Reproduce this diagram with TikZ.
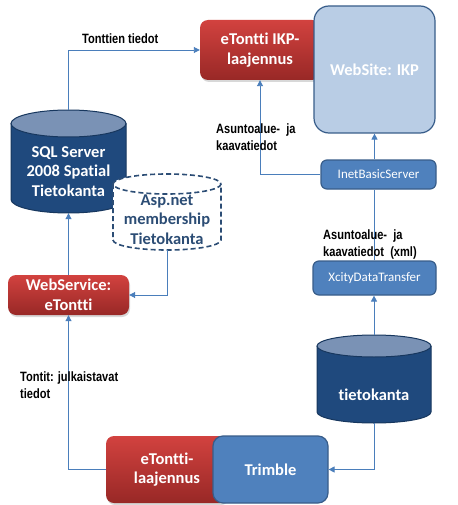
\documentclass[tikz,border=0pt]{standalone}
\usepackage{fontspec}
\setmainfont{Carlito}[Ligatures={NoCommon,NoContextual}]
\newfontfamily\labfont[FakeStretch=0.82]{Liberation Sans}
\usetikzlibrary{arrows.meta,shadows}
\definecolor{redtop}{RGB}{210,66,63}
\definecolor{redbot}{RGB}{152,40,38}
\definecolor{boxblue}{RGB}{79,129,189}
\definecolor{blueedge}{RGB}{56,93,138}
\definecolor{webfill}{RGB}{185,205,229}
\definecolor{cylbody}{RGB}{31,73,125}
\definecolor{cyltop}{RGB}{122,146,181}
\definecolor{cyledge}{RGB}{23,55,94}
\definecolor{arrowc}{RGB}{74,126,187}
\definecolor{aspc}{RGB}{44,77,117}
\begin{document}
\begin{tikzpicture}[x=1pt,y=-1pt,
  bigtext/.style={font=\fontsize{16.5}{19.5}\selectfont\bfseries, align=center},
  redbox/.style={bigtext, rounded corners=8pt, top color=redtop, bottom color=redbot, text=white, inner sep=0pt,
    drop shadow={opacity=0.3, shadow xshift=1pt, shadow yshift=-2pt}},
  webbox/.style={bigtext, rounded corners=15pt, fill=webfill, draw=blueedge, line width=1.2pt, text=white, inner sep=0pt},
  bigbluebox/.style={bigtext, rounded corners=10pt, fill=boxblue, draw=blueedge, line width=1.2pt, text=white, inner sep=0pt},
  smallbox/.style={font=\fontsize{13}{15}\selectfont, rounded corners=6pt, fill=boxblue, draw=blueedge, line width=1.2pt, text=white, inner sep=0pt},
  cylname/.style={inner sep=0pt},
  labeltext/.style={font=\labfont\bfseries\fontsize{13.5}{17}\selectfont, align=left, inner sep=0pt, anchor=north west},
  conn/.style={draw=arrowc, line width=0.9pt},
  arr/.style={conn, -{Triangle[length=6pt,width=6pt]}, arrowc}
]
\fill[white] (0,0) rectangle (457,505);
\useasboundingbox (0,0) rectangle (457,505);

% SQL Server cylinder
\fill[cylbody] (11,123.5) -- (11,199.5) arc[start angle=180,end angle=0,x radius=57.5,y radius=13.5] -- (126,123.5) -- cycle;
\draw[cyledge, line width=1pt] (11,123.5) -- (11,199.5) arc[start angle=180,end angle=0,x radius=57.5,y radius=13.5] -- (126,123.5);
\filldraw[fill=cyltop, draw=cyledge, line width=1pt] (68.5,123.5) ellipse[x radius=57.5, y radius=13.5];
\node[cylname, minimum width=115pt, minimum height=103pt] (sql) at (68.5,161.5) {};
\node[bigtext, text=white] (sqltext) at (68.5,171.5) {SQL Server\\2008 Spatial\\Tietokanta};

% Asp.net cylinder (dashed)
\fill[white] (113,184) -- (113,240) arc[start angle=180,end angle=0,x radius=54,y radius=10] -- (221,184) -- cycle;
\fill[white] (167,184) ellipse[x radius=54, y radius=10];
\draw[aspc, line width=1.6pt, dash pattern=on 5pt off 3pt] (113,184) -- (113,240) arc[start angle=180,end angle=0,x radius=54,y radius=10] -- (221,184);
\draw[aspc, line width=1.6pt, dash pattern=on 5pt off 3pt] (167,184) ellipse[x radius=54, y radius=10];
\node[cylname, minimum width=108pt, minimum height=76pt] (asp) at (167,212) {};
\node[bigtext, text=aspc] (asptext) at (167,219.5) {Asp.net\\membership\\Tietokanta};

% tietokanta cylinder
\fill[cylbody] (317,346) -- (317,412) arc[start angle=180,end angle=0,x radius=57,y radius=11] -- (431,346) -- cycle;
\draw[cyledge, line width=1pt] (317,346) -- (317,412) arc[start angle=180,end angle=0,x radius=57,y radius=11] -- (431,346);
\filldraw[fill=cyltop, draw=cyledge, line width=1pt] (374,346) ellipse[x radius=57, y radius=11];
\node[cylname, minimum width=114pt, minimum height=88pt] (tk) at (374,379) {};
\node[bigtext, text=white] (tktext) at (374,395) {tietokanta};

% boxes
\node[redbox, minimum width=120pt, minimum height=60pt] (ikp) at (260,50) {eTontti IKP-\\laajennus};
\node[webbox, minimum width=121pt, minimum height=127pt] (web) at (374.5,69.5) {WebSite: IKP};
\node[smallbox, minimum width=115pt, minimum height=29pt] (inet) at (378.5,174.5) {InetBasicServer};
\node[smallbox, minimum width=123pt, minimum height=34pt] (xcity) at (374.5,278) {XcityDataTransfer};
\node[redbox, minimum width=121pt, minimum height=40pt] (ws) at (68.5,295) {WebService:\\eTontti};
\node[redbox, minimum width=122pt, minimum height=67pt] (etl) at (167,469.5) {eTontti-\\laajennus};
\node[bigbluebox, minimum width=115pt, minimum height=67pt] (trimble) at (270.5,469.5) {Trimble};

% connectors
\draw[arr] (sql.north) |- (ikp.west);
\draw[arr] (ws.north) -- (ws.north |- sql.south);
\draw[arr] (asp.south) |- (ws.east);
\draw[arr] (etl.west) -| (ws.south);
\draw[arr] (tk.south) |- (trimble.east);
\draw[arr] (tk.north) -- (tk.north |- xcity.south);
\draw[conn] (xcity.north) -- (xcity.north |- inet.south);
\draw[arr] (xcity.north |- inet.north) -- (xcity.north |- web.south);
\draw[arr] (inet.west) -| (ikp.south);

% labels
\node[labeltext] (l1) at (82,34) {Tonttien tiedot};
\node[labeltext] (l2) at (216,124) {Asuntoalue-\ \ ja\\kaavatiedot};
\node[labeltext] (l3) at (323,230) {Asuntoalue-\ \ ja\\kaavatiedot\ \ (xml)};
\node[labeltext] (l4) at (20,372) {Tontit: julkaistavat\\tiedot};
\end{tikzpicture}
\end{document}
